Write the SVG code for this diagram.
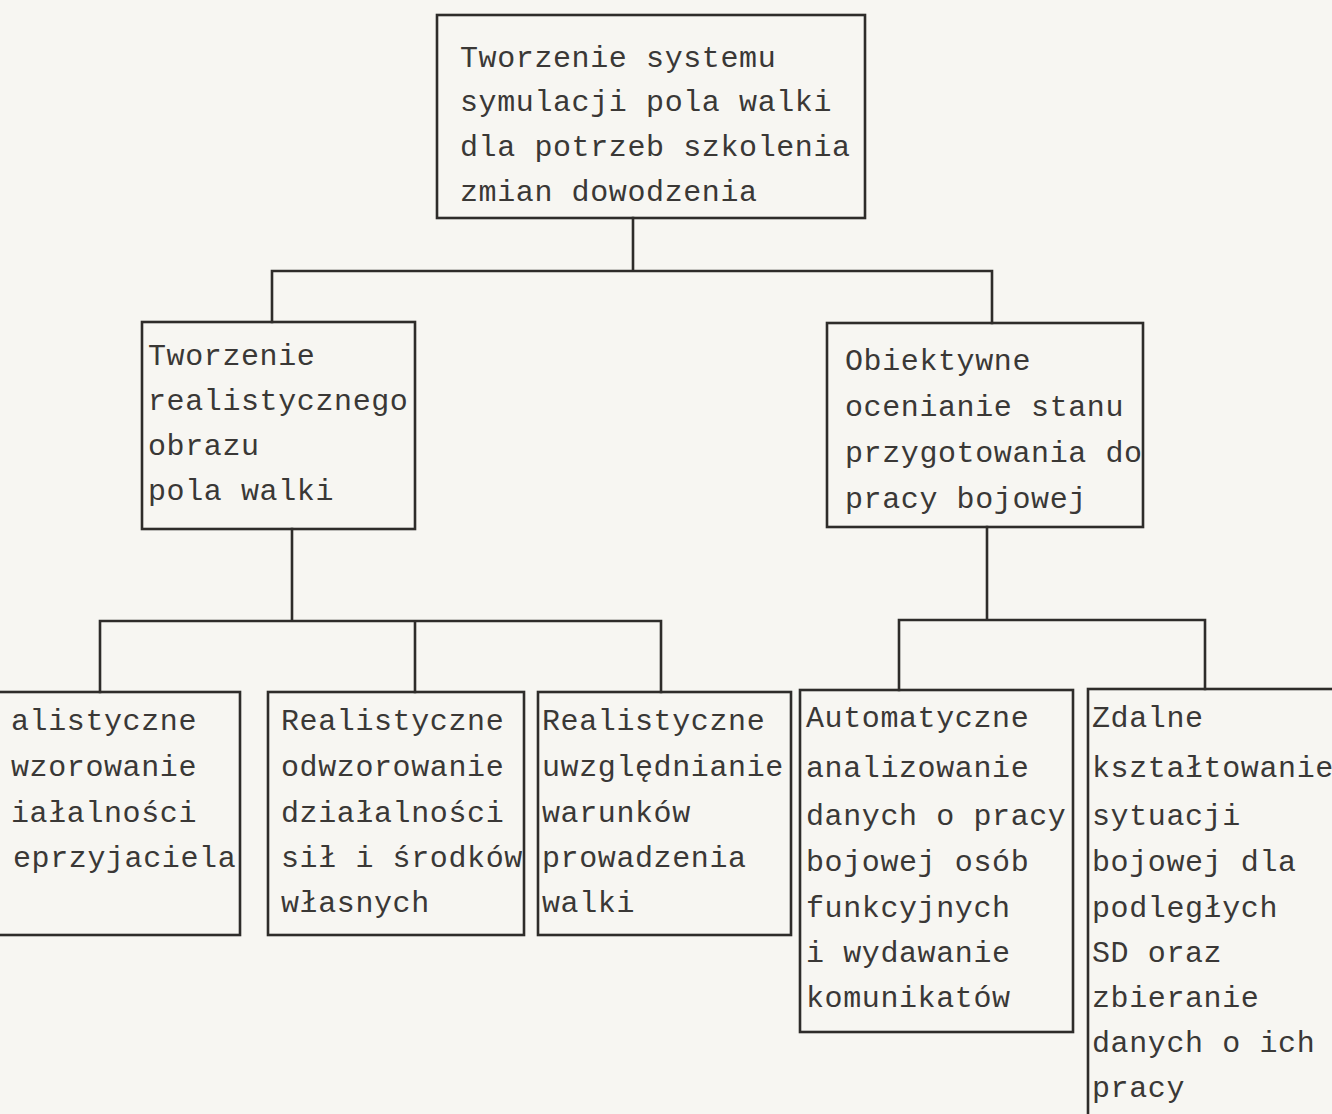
<svg xmlns="http://www.w3.org/2000/svg" width="1332" height="1114" viewBox="0 0 1332 1114">
<style>
.bg{fill:#f7f6f2}
.box{fill:none;stroke:#2e2c2a;stroke-width:2.6}
.ln{fill:none;stroke:#2e2c2a;stroke-width:2.6;stroke-linecap:square}
.t{font-family:"Liberation Mono","Courier New",monospace;font-size:30px;letter-spacing:0.6px;fill:#3a3836}
</style>
<rect class="bg" x="0" y="0" width="1332" height="1114"/>
<g id="connectors">
<path class="ln" d="M633 218V271M272 271H992M272 271V322M992 271V323"/>
<path class="ln" d="M292 529V621M100 621H661M100 621V692M415 621V692M661 621V692"/>
<path class="ln" d="M987 527V620M899 620H1205M899 620V690M1205 620V689"/>
</g>
<g id="n-top">
<rect class="box" x="437" y="15" width="428" height="203"/>
<text class="t" x="460" y="67">Tworzenie systemu</text>
<text class="t" x="460" y="111">symulacji pola walki</text>
<text class="t" x="460" y="156">dla potrzeb szkolenia</text>
<text class="t" x="460" y="201">zmian dowodzenia</text>
</g>
<g id="n-left">
<rect class="box" x="142" y="322" width="273" height="207"/>
<text class="t" x="148" y="365">Tworzenie</text>
<text class="t" x="148" y="410">realistycznego</text>
<text class="t" x="148" y="455">obrazu</text>
<text class="t" x="148" y="500">pola walki</text>
</g>
<g id="n-right">
<rect class="box" x="827" y="323" width="316" height="204"/>
<text class="t" x="845" y="370">Obiektywne</text>
<text class="t" x="845" y="416">ocenianie stanu</text>
<text class="t" x="845" y="462">przygotowania do</text>
<text class="t" x="845" y="508">pracy bojowej</text>
</g>
<g id="n-a">
<rect class="box" x="-10" y="692" width="250" height="243"/>
<text class="t" x="11" y="730">alistyczne</text>
<text class="t" x="11" y="776">wzorowanie</text>
<text class="t" x="11" y="822">iałalności</text>
<text class="t" x="13" y="867">eprzyjaciela</text>
</g>
<g id="n-b">
<rect class="box" x="268" y="692" width="256" height="243"/>
<text class="t" x="281" y="730">Realistyczne</text>
<text class="t" x="281" y="776">odwzorowanie</text>
<text class="t" x="281" y="822">działalności</text>
<text class="t" x="281" y="867">sił i środków</text>
<text class="t" x="281" y="912">własnych</text>
</g>
<g id="n-c">
<rect class="box" x="538" y="692" width="253" height="243"/>
<text class="t" x="542" y="730">Realistyczne</text>
<text class="t" x="542" y="776">uwzględnianie</text>
<text class="t" x="542" y="822">warunków</text>
<text class="t" x="542" y="867">prowadzenia</text>
<text class="t" x="542" y="912">walki</text>
</g>
<g id="n-d">
<rect class="box" x="800" y="690" width="273" height="342"/>
<text class="t" x="806" y="727">Automatyczne</text>
<text class="t" x="806" y="777">analizowanie</text>
<text class="t" x="806" y="825">danych o pracy</text>
<text class="t" x="806" y="871">bojowej osób</text>
<text class="t" x="806" y="917">funkcyjnych</text>
<text class="t" x="806" y="962">i wydawanie</text>
<text class="t" x="806" y="1007">komunikatów</text>
</g>
<g id="n-e">
<rect class="box" x="1088" y="689" width="260" height="440"/>
<text class="t" x="1092" y="727">Zdalne</text>
<text class="t" x="1092" y="777">kształtowanie</text>
<text class="t" x="1092" y="825">sytuacji</text>
<text class="t" x="1092" y="871">bojowej dla</text>
<text class="t" x="1092" y="917">podległych</text>
<text class="t" x="1092" y="962">SD oraz</text>
<text class="t" x="1092" y="1007">zbieranie</text>
<text class="t" x="1092" y="1052">danych o ich</text>
<text class="t" x="1092" y="1097">pracy</text>
</g>
</svg>
